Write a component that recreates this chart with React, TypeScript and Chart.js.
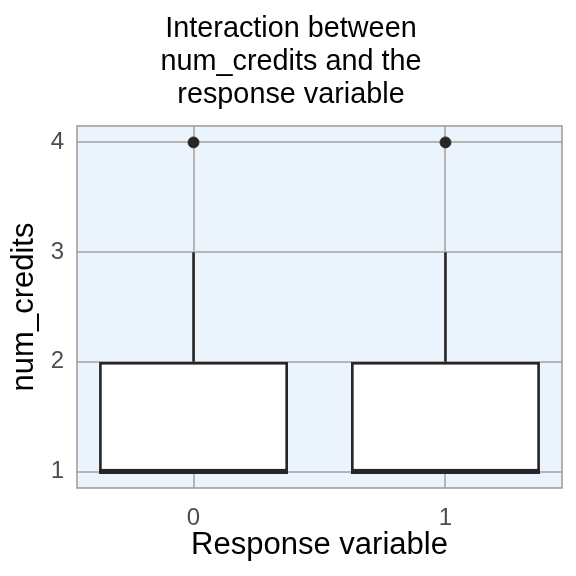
import React, { useEffect, useRef } from "react";
import { Chart, registerables } from "chart.js";

Chart.register(...registerables);

// ---- data ----
const categories = ["0", "1"];
const q1 = [1, 1];
const medians = [1, 1];
const q3 = [2, 2];
const whiskerLow = [1, 1];
const whiskerHigh = [3, 3];
const outliers = [[4], [4]];
const yTicks = [1, 2, 3, 4];

const titleLines = ["Interaction between", "num_credits and the", "response variable"];
const xTitle = "Response variable";
const yTitle = "num_credits";

const BOX_HALF = 0.375;
const FONT = "'Liberation Sans', Arial, Helvetica, sans-serif";
const INK = "#262626";

const panelPlugin = {
  id: "panel",
  beforeDraw(chart: any) {
    const { ctx, chartArea: a } = chart;
    ctx.save();
    ctx.fillStyle = "#FFFFFF";
    ctx.fillRect(0, 0, chart.width, chart.height);
    ctx.fillStyle = "#EBF4FD";
    ctx.fillRect(a.left, a.top, a.right - a.left, a.bottom - a.top);
    ctx.restore();
  },
  afterDraw(chart: any) {
    const { ctx, chartArea: a } = chart;
    ctx.save();
    ctx.strokeStyle = "#9A9A9A";
    ctx.lineWidth = 1.5;
    ctx.strokeRect(a.left, a.top, a.right - a.left, a.bottom - a.top);
    ctx.restore();
  },
};

export default function App() {
  const ref = useRef<HTMLCanvasElement>(null);

  useEffect(() => {
    if (!ref.current) return;

    const boxData = categories.map((_, i) => ({ x: i, y: [q1[i], q3[i]] }));
    const medianData: any[] = [];
    const whiskerData: any[] = [];
    const outlierData: any[] = [];
    categories.forEach((_, i) => {
      medianData.push({ x: i - BOX_HALF, y: medians[i] }, { x: i + BOX_HALF, y: medians[i] }, { x: i + 0.5, y: null });
      whiskerData.push({ x: i, y: q3[i] }, { x: i, y: whiskerHigh[i] }, { x: i, y: null });
      whiskerData.push({ x: i, y: whiskerLow[i] }, { x: i, y: q1[i] }, { x: i + 0.5, y: null });
      outliers[i].forEach((v) => outlierData.push({ x: i, y: v }));
    });

    const chart = new Chart(ref.current, {
      type: "bar",
      data: {
        datasets: [
          {
            type: "bar",
            data: boxData as any,
            backgroundColor: "#FFFFFF",
            borderColor: INK,
            borderWidth: 2.8,
            borderSkipped: false,
            categoryPercentage: 2 * BOX_HALF,
            barPercentage: 1,
            order: 3,
          } as any,
          {
            type: "line",
            data: whiskerData,
            borderColor: INK,
            borderWidth: 2.6,
            pointRadius: 0,
            spanGaps: false,
            order: 4,
          },
          {
            type: "line",
            data: medianData,
            borderColor: INK,
            borderWidth: 5,
            pointRadius: 0,
            spanGaps: false,
            order: 1,
          },
          {
            type: "line",
            data: outlierData,
            showLine: false,
            pointRadius: 5.5,
            pointBorderWidth: 0.8,
            pointBackgroundColor: INK,
            pointBorderColor: INK,
            order: 0,
          },
        ],
      },
      options: {
        responsive: false,
        animation: false,
        layout: { padding: { left: 6, right: 0, top: 0, bottom: 0 } },
        plugins: {
          legend: { display: false },
          tooltip: { enabled: false },
          title: {
            display: true,
            text: titleLines,
            color: "#000000",
            font: { family: FONT, size: 28.8, weight: "normal", lineHeight: 1.15 },
            padding: { top: 12, bottom: 14.6 },
          },
        },
        scales: {
          x: {
            type: "linear",
            min: -0.4625,
            max: 1.4625,
            offset: false,
            afterFit: (s: any) => {
              s.height = 88;
            },
            afterBuildTicks: (s: any) => {
              s.ticks = categories.map((_, i) => ({ value: i }));
            },
            ticks: {
              callback: (v: any) => categories[Math.round(Number(v))] ?? "",
              color: "#4D4D4D",
              font: { family: FONT, size: 24 },
              padding: 15.6,
              maxRotation: 0,
              autoSkip: false,
            },
            grid: { color: "#B5B5B5", lineWidth: 2, drawTicks: false, offset: false },
            border: { display: false },
            title: {
              display: true,
              text: xTitle,
              color: "#000000",
              font: { family: FONT, size: 31 },
              padding: { top: 0, bottom: 12.4 },
            },
          },
          y: {
            type: "linear",
            position: "left",
            min: 0.85,
            max: 4.15,
            afterFit: (s: any) => {
              s.width = 71;
            },
            afterBuildTicks: (s: any) => {
              s.ticks = yTicks.map((v) => ({ value: v }));
            },
            ticks: {
              callback: (v: any) => String(v),
              color: "#4D4D4D",
              font: { family: FONT, size: 24 },
              padding: 13,
            },
            grid: { color: "#B5B5B5", lineWidth: 2, drawTicks: false },
            border: { display: false },
            title: {
              display: true,
              text: yTitle,
              color: "#000000",
              font: { family: FONT, size: 31 },
              padding: { top: 0, bottom: 0 },
            },
          },
          yRightSpace: {
            type: "linear",
            position: "right",
            display: true,
            min: 0.85,
            max: 4.15,
            afterFit: (s: any) => {
              s.width = 14;
            },
            ticks: { display: false, callback: () => "" },
            grid: { display: false, drawTicks: false },
            border: { display: false },
            title: { display: false },
          },
        },
      } as any,
      plugins: [panelPlugin],
    });

    return () => chart.destroy();
  }, []);

  return (
    <div style={{ position: "fixed", left: 0, top: 0, width: 576, height: 576 }}>
      <canvas ref={ref} width={576} height={576} />
    </div>
  );
}
